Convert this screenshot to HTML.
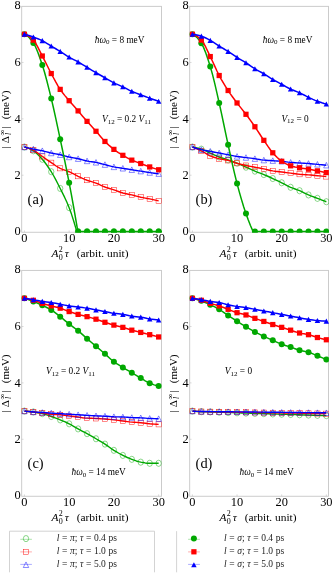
<!DOCTYPE html>
<html><head><meta charset="utf-8"><title>chart</title>
<style>html,body{margin:0;padding:0;background:#fff;}body{width:332px;height:576px;position:relative;overflow:hidden;font-family:"Liberation Serif",serif;}</style>
</head><body>
<svg width="332" height="576" viewBox="0 0 332 576" style="position:absolute;left:0;top:0;will-change:transform;font-family:'Liberation Serif',serif">
<defs>
<clipPath id="cpa"><rect x="21.3" y="5.95" width="140.6" height="226.7"/></clipPath>
<clipPath id="cpb"><rect x="189.3" y="5.95" width="139.6" height="226.7"/></clipPath>
<clipPath id="cpc"><rect x="21.3" y="270" width="140.6" height="226.65"/></clipPath>
<clipPath id="cpd"><rect x="189.3" y="270" width="139.6" height="226.65"/></clipPath>
</defs>
<rect x="21.7" y="6.35" width="139.8" height="225.9" fill="none" stroke="#c6c6c6" stroke-width="0.9"/>
<text x="20.8" y="235" font-size="12.4" text-anchor="end" fill="#000">0</text>
<line x1="21.7" x2="23.5" y1="175.22" y2="175.22" stroke="#c6c6c6" stroke-width="0.7"/>
<text x="20.8" y="179" font-size="12.4" text-anchor="end" fill="#000">2</text>
<line x1="21.7" x2="23.5" y1="118.84" y2="118.84" stroke="#c6c6c6" stroke-width="0.7"/>
<text x="20.8" y="123" font-size="12.4" text-anchor="end" fill="#000">4</text>
<line x1="21.7" x2="23.5" y1="62.46" y2="62.46" stroke="#c6c6c6" stroke-width="0.7"/>
<text x="20.8" y="66" font-size="12.4" text-anchor="end" fill="#000">6</text>
<text x="20.8" y="9" font-size="12.4" text-anchor="end" fill="#000">8</text>
<line x1="24.4" x2="24.4" y1="232.25" y2="230.45" stroke="#c6c6c6" stroke-width="0.7"/>
<text x="24.4" y="242" font-size="12.4" text-anchor="middle" fill="#000">0</text>
<line x1="69.15" x2="69.15" y1="232.25" y2="230.45" stroke="#c6c6c6" stroke-width="0.7"/>
<text x="69.15" y="242" font-size="12.4" text-anchor="middle" fill="#000">10</text>
<line x1="113.9" x2="113.9" y1="232.25" y2="230.45" stroke="#c6c6c6" stroke-width="0.7"/>
<text x="113.9" y="242" font-size="12.4" text-anchor="middle" fill="#000">20</text>
<line x1="158.65" x2="158.65" y1="232.25" y2="230.45" stroke="#c6c6c6" stroke-width="0.7"/>
<text x="158.65" y="242" font-size="12.4" text-anchor="middle" fill="#000">30</text>
<g clip-path="url(#cpa)">
<path d="M24.4 147.03L26.64 147.57L28.88 148.44L31.11 149.54L33.35 150.8L35.59 152.38L37.82 154.43L40.06 156.78L42.3 159.29L44.54 161.98L46.77 164.99L49.01 168.26L51.25 171.74L53.49 175.51L55.72 179.63L57.96 183.98L60.2 188.44L62.44 192.88L64.67 197.42L66.91 202.28L69.15 207.68L71.39 213.86L73.62 220.82L75.86 228.41L76.76 231.6L163.12 231.6" fill="none" stroke="#00a800" stroke-width="1.4" stroke-linejoin="round"/>
<ellipse cx="24.4" cy="147.03" rx="2.65" ry="3.1" fill="none" stroke="#00a800" stroke-width="0.46"/>
<ellipse cx="33.35" cy="150.8" rx="2.65" ry="3.1" fill="none" stroke="#00a800" stroke-width="0.46"/>
<ellipse cx="42.3" cy="159.29" rx="2.65" ry="3.1" fill="none" stroke="#00a800" stroke-width="0.46"/>
<ellipse cx="51.25" cy="171.74" rx="2.65" ry="3.1" fill="none" stroke="#00a800" stroke-width="0.46"/>
<ellipse cx="60.2" cy="188.44" rx="2.65" ry="3.1" fill="none" stroke="#00a800" stroke-width="0.46"/>
<ellipse cx="69.15" cy="207.68" rx="2.65" ry="3.1" fill="none" stroke="#00a800" stroke-width="0.46"/>
<ellipse cx="78.1" cy="231.6" rx="2.65" ry="3.1" fill="none" stroke="#00a800" stroke-width="0.46"/>
<ellipse cx="87.05" cy="231.6" rx="2.65" ry="3.1" fill="none" stroke="#00a800" stroke-width="0.46"/>
<ellipse cx="96" cy="231.6" rx="2.65" ry="3.1" fill="none" stroke="#00a800" stroke-width="0.46"/>
<ellipse cx="104.95" cy="231.6" rx="2.65" ry="3.1" fill="none" stroke="#00a800" stroke-width="0.46"/>
<ellipse cx="113.9" cy="231.6" rx="2.65" ry="3.1" fill="none" stroke="#00a800" stroke-width="0.46"/>
<ellipse cx="122.85" cy="231.6" rx="2.65" ry="3.1" fill="none" stroke="#00a800" stroke-width="0.46"/>
<ellipse cx="131.8" cy="231.6" rx="2.65" ry="3.1" fill="none" stroke="#00a800" stroke-width="0.46"/>
<ellipse cx="140.75" cy="231.6" rx="2.65" ry="3.1" fill="none" stroke="#00a800" stroke-width="0.46"/>
<ellipse cx="149.7" cy="231.6" rx="2.65" ry="3.1" fill="none" stroke="#00a800" stroke-width="0.46"/>
<ellipse cx="158.65" cy="231.6" rx="2.65" ry="3.1" fill="none" stroke="#00a800" stroke-width="0.46"/>
<path d="M24.4 147.03L26.64 147.57L28.88 148.31L31.11 149.21L33.35 150.23L35.59 151.51L37.82 153.09L40.06 154.81L42.3 156.46L44.54 158.03L46.77 159.61L49.01 161.17L51.25 162.68L53.49 164.2L55.72 165.72L57.96 167.14L60.2 168.34L62.44 169.29L64.67 170.09L66.91 170.86L69.15 171.74L71.39 172.79L73.62 173.96L75.86 175.15L78.1 176.27L80.34 177.32L82.57 178.36L84.81 179.34L87.05 180.23L89.29 180.98L91.53 181.64L93.76 182.31L96 183.06L98.24 183.99L100.47 185.04L102.71 186.09L104.95 187.02L107.19 187.79L109.42 188.48L111.66 189.15L113.9 189.85L116.14 190.64L118.38 191.47L120.61 192.28L122.85 192.96L125.09 193.51L127.32 193.99L129.56 194.45L131.8 194.94L134.04 195.5L136.27 196.1L138.51 196.68L140.75 197.21L142.99 197.66L145.22 198.07L147.46 198.47L149.7 198.91L151.94 199.37L154.17 199.86L156.41 200.36L158.65 200.89" fill="none" stroke="#ff0000" stroke-width="1.4" stroke-linejoin="round"/>
<rect x="21.8" y="144.48" width="5.2" height="5.1" fill="none" stroke="#ff0000" stroke-width="0.46"/>
<rect x="30.75" y="147.68" width="5.2" height="5.1" fill="none" stroke="#ff0000" stroke-width="0.46"/>
<rect x="39.7" y="153.91" width="5.2" height="5.1" fill="none" stroke="#ff0000" stroke-width="0.46"/>
<rect x="48.65" y="160.13" width="5.2" height="5.1" fill="none" stroke="#ff0000" stroke-width="0.46"/>
<rect x="57.6" y="165.79" width="5.2" height="5.1" fill="none" stroke="#ff0000" stroke-width="0.46"/>
<rect x="66.55" y="169.19" width="5.2" height="5.1" fill="none" stroke="#ff0000" stroke-width="0.46"/>
<rect x="75.5" y="173.72" width="5.2" height="5.1" fill="none" stroke="#ff0000" stroke-width="0.46"/>
<rect x="84.45" y="177.68" width="5.2" height="5.1" fill="none" stroke="#ff0000" stroke-width="0.46"/>
<rect x="93.4" y="180.51" width="5.2" height="5.1" fill="none" stroke="#ff0000" stroke-width="0.46"/>
<rect x="102.35" y="184.47" width="5.2" height="5.1" fill="none" stroke="#ff0000" stroke-width="0.46"/>
<rect x="111.3" y="187.3" width="5.2" height="5.1" fill="none" stroke="#ff0000" stroke-width="0.46"/>
<rect x="120.25" y="190.41" width="5.2" height="5.1" fill="none" stroke="#ff0000" stroke-width="0.46"/>
<rect x="129.2" y="192.39" width="5.2" height="5.1" fill="none" stroke="#ff0000" stroke-width="0.46"/>
<rect x="138.15" y="194.66" width="5.2" height="5.1" fill="none" stroke="#ff0000" stroke-width="0.46"/>
<rect x="147.1" y="196.36" width="5.2" height="5.1" fill="none" stroke="#ff0000" stroke-width="0.46"/>
<rect x="156.05" y="198.34" width="5.2" height="5.1" fill="none" stroke="#ff0000" stroke-width="0.46"/>
<path d="M24.4 147.03L26.64 147.58L28.88 148.11L31.11 148.62L33.35 149.1L35.59 149.53L37.82 149.94L40.06 150.35L42.3 150.8L44.54 151.33L46.77 151.93L49.01 152.52L51.25 153.06L53.49 153.51L55.72 153.91L57.96 154.31L60.2 154.76L62.44 155.29L64.67 155.89L66.91 156.49L69.15 157.02L71.39 157.47L73.62 157.87L75.86 158.27L78.1 158.72L80.34 159.27L82.57 159.88L84.81 160.48L87.05 160.98L89.29 161.37L91.53 161.69L93.76 162.01L96 162.4L98.24 162.89L100.47 163.47L102.71 164.07L104.95 164.66L107.19 165.25L109.42 165.86L111.66 166.43L113.9 166.93L116.14 167.33L118.38 167.68L120.61 168L122.85 168.34L125.09 168.7L127.32 169.05L129.56 169.4L131.8 169.76L134.04 170.11L136.27 170.46L138.51 170.82L140.75 171.17L142.99 171.53L145.22 171.9L147.46 172.26L149.7 172.59L151.94 172.89L154.17 173.19L156.41 173.46L158.65 173.72" fill="none" stroke="#0000ff" stroke-width="1.4" stroke-linejoin="round"/>
<path d="M24.4 144.18L27.1 149.73L21.7 149.73Z" fill="none" stroke="#0000ff" stroke-width="0.46"/>
<path d="M33.35 146.25L36.05 151.8L30.65 151.8Z" fill="none" stroke="#0000ff" stroke-width="0.46"/>
<path d="M42.3 147.95L45 153.5L39.6 153.5Z" fill="none" stroke="#0000ff" stroke-width="0.46"/>
<path d="M51.25 150.21L53.95 155.76L48.55 155.76Z" fill="none" stroke="#0000ff" stroke-width="0.46"/>
<path d="M60.2 151.91L62.9 157.46L57.5 157.46Z" fill="none" stroke="#0000ff" stroke-width="0.46"/>
<path d="M69.15 154.17L71.85 159.72L66.45 159.72Z" fill="none" stroke="#0000ff" stroke-width="0.46"/>
<path d="M78.1 155.87L80.8 161.42L75.4 161.42Z" fill="none" stroke="#0000ff" stroke-width="0.46"/>
<path d="M87.05 158.13L89.75 163.68L84.35 163.68Z" fill="none" stroke="#0000ff" stroke-width="0.46"/>
<path d="M96 159.55L98.7 165.1L93.3 165.1Z" fill="none" stroke="#0000ff" stroke-width="0.46"/>
<path d="M104.95 161.81L107.65 167.36L102.25 167.36Z" fill="none" stroke="#0000ff" stroke-width="0.46"/>
<path d="M113.9 164.08L116.6 169.63L111.2 169.63Z" fill="none" stroke="#0000ff" stroke-width="0.46"/>
<path d="M122.85 165.49L125.55 171.04L120.15 171.04Z" fill="none" stroke="#0000ff" stroke-width="0.46"/>
<path d="M131.8 166.91L134.5 172.46L129.1 172.46Z" fill="none" stroke="#0000ff" stroke-width="0.46"/>
<path d="M140.75 168.32L143.45 173.87L138.05 173.87Z" fill="none" stroke="#0000ff" stroke-width="0.46"/>
<path d="M149.7 169.74L152.4 175.29L147 175.29Z" fill="none" stroke="#0000ff" stroke-width="0.46"/>
<path d="M158.65 170.87L161.35 176.42L155.95 176.42Z" fill="none" stroke="#0000ff" stroke-width="0.46"/>
<path d="M24.4 34.27L26.64 35.33L28.88 37.31L31.11 39.95L33.35 42.97L35.59 46.93L37.82 52.25L40.06 58.45L42.3 65.05L44.54 72.28L46.77 80.48L49.01 89.31L51.25 98.44L53.49 108L55.72 118.14L57.96 128.62L60.2 139.19L62.44 149.74L64.67 160.42L66.91 171.38L69.15 182.78L71.39 194.66L73.62 207L75.86 219.77L77.88 231.6L163.12 231.6" fill="none" stroke="#00a800" stroke-width="1.5" stroke-linejoin="round"/>
<circle cx="24.4" cy="34.27" r="3.0" fill="#00a800"/>
<circle cx="33.35" cy="42.97" r="3.0" fill="#00a800"/>
<circle cx="42.3" cy="65.05" r="3.0" fill="#00a800"/>
<circle cx="51.25" cy="98.44" r="3.0" fill="#00a800"/>
<circle cx="60.2" cy="139.19" r="3.0" fill="#00a800"/>
<circle cx="69.15" cy="182.78" r="3.0" fill="#00a800"/>
<circle cx="78.1" cy="231.6" r="3.0" fill="#00a800"/>
<circle cx="87.05" cy="231.6" r="3.0" fill="#00a800"/>
<circle cx="96" cy="231.6" r="3.0" fill="#00a800"/>
<circle cx="104.95" cy="231.6" r="3.0" fill="#00a800"/>
<circle cx="113.9" cy="231.6" r="3.0" fill="#00a800"/>
<circle cx="122.85" cy="231.6" r="3.0" fill="#00a800"/>
<circle cx="131.8" cy="231.6" r="3.0" fill="#00a800"/>
<circle cx="140.75" cy="231.6" r="3.0" fill="#00a800"/>
<circle cx="149.7" cy="231.6" r="3.0" fill="#00a800"/>
<circle cx="158.65" cy="231.6" r="3.0" fill="#00a800"/>
<path d="M24.4 34.27L26.64 34.91L28.88 36.25L31.11 38.06L33.35 40.14L35.59 43.04L37.82 47.06L40.06 51.57L42.3 55.99L44.54 60.29L46.77 64.76L49.01 69.23L51.25 73.54L53.49 77.74L55.72 81.89L57.96 85.83L60.2 89.39L62.44 92.51L64.67 95.36L66.91 98.05L69.15 100.7L71.39 103.32L73.62 105.85L75.86 108.35L78.1 110.89L80.34 113.5L82.57 116.15L84.81 118.78L87.05 121.36L89.29 123.87L91.53 126.33L93.76 128.79L96 131.27L98.24 133.86L100.47 136.5L102.71 139.08L104.95 141.46L107.19 143.63L109.42 145.68L111.66 147.61L113.9 149.38L116.14 151.02L118.38 152.54L120.61 153.97L122.85 155.32L125.09 156.64L127.32 157.9L129.56 159.07L131.8 160.14L134.04 161.07L136.27 161.91L138.51 162.71L140.75 163.53L142.99 164.39L145.22 165.27L147.46 166.12L149.7 166.93L151.94 167.68L154.17 168.41L156.41 169.1L158.65 169.76" fill="none" stroke="#ff0000" stroke-width="1.5" stroke-linejoin="round"/>
<rect x="21.78" y="31.65" width="5.24" height="5.24" fill="#ff0000"/>
<rect x="30.73" y="37.52" width="5.24" height="5.24" fill="#ff0000"/>
<rect x="39.68" y="53.37" width="5.24" height="5.24" fill="#ff0000"/>
<rect x="48.63" y="70.92" width="5.24" height="5.24" fill="#ff0000"/>
<rect x="57.58" y="86.77" width="5.24" height="5.24" fill="#ff0000"/>
<rect x="66.53" y="98.08" width="5.24" height="5.24" fill="#ff0000"/>
<rect x="75.48" y="108.27" width="5.24" height="5.24" fill="#ff0000"/>
<rect x="84.43" y="118.74" width="5.24" height="5.24" fill="#ff0000"/>
<rect x="93.38" y="128.65" width="5.24" height="5.24" fill="#ff0000"/>
<rect x="102.33" y="138.84" width="5.24" height="5.24" fill="#ff0000"/>
<rect x="111.28" y="146.76" width="5.24" height="5.24" fill="#ff0000"/>
<rect x="120.23" y="152.7" width="5.24" height="5.24" fill="#ff0000"/>
<rect x="129.18" y="157.52" width="5.24" height="5.24" fill="#ff0000"/>
<rect x="138.13" y="160.91" width="5.24" height="5.24" fill="#ff0000"/>
<rect x="147.08" y="164.31" width="5.24" height="5.24" fill="#ff0000"/>
<rect x="156.03" y="167.14" width="5.24" height="5.24" fill="#ff0000"/>
<path d="M24.4 34.27L26.64 34.88L28.88 35.54L31.11 36.26L33.35 37.03L35.59 37.84L37.82 38.72L40.06 39.67L42.3 40.71L44.54 41.91L46.77 43.27L49.01 44.69L51.25 46.09L53.49 47.42L55.72 48.76L57.96 50.1L60.2 51.46L62.44 52.88L64.67 54.33L66.91 55.77L69.15 57.12L71.39 58.37L73.62 59.54L75.86 60.71L78.1 61.93L80.34 63.24L82.57 64.59L84.81 65.95L87.05 67.31L89.29 68.66L91.53 70.02L93.76 71.36L96 72.69L98.24 73.98L100.47 75.25L102.71 76.51L104.95 77.78L107.19 79.09L109.42 80.41L111.66 81.69L113.9 82.88L116.14 83.92L118.38 84.89L120.61 85.83L122.85 86.84L125.09 87.96L127.32 89.15L129.56 90.31L131.8 91.37L134.04 92.28L136.27 93.12L138.51 93.94L140.75 94.76L142.99 95.62L145.22 96.48L147.46 97.33L149.7 98.16L151.94 98.96L154.17 99.75L156.41 100.52L158.65 101.27" fill="none" stroke="#0000ff" stroke-width="1.5" stroke-linejoin="round"/>
<path d="M24.4 31.67L27.15 36.77L21.65 36.77Z" fill="#0000ff"/>
<path d="M33.35 34.43L36.1 39.53L30.6 39.53Z" fill="#0000ff"/>
<path d="M42.3 38.11L45.05 43.21L39.55 43.21Z" fill="#0000ff"/>
<path d="M51.25 43.49L54 48.59L48.5 48.59Z" fill="#0000ff"/>
<path d="M60.2 48.86L62.95 53.96L57.45 53.96Z" fill="#0000ff"/>
<path d="M69.15 54.52L71.9 59.62L66.4 59.62Z" fill="#0000ff"/>
<path d="M78.1 59.33L80.85 64.43L75.35 64.43Z" fill="#0000ff"/>
<path d="M87.05 64.71L89.8 69.81L84.3 69.81Z" fill="#0000ff"/>
<path d="M96 70.09L98.75 75.19L93.25 75.19Z" fill="#0000ff"/>
<path d="M104.95 75.18L107.7 80.28L102.2 80.28Z" fill="#0000ff"/>
<path d="M113.9 80.28L116.65 85.38L111.15 85.38Z" fill="#0000ff"/>
<path d="M122.85 84.24L125.6 89.34L120.1 89.34Z" fill="#0000ff"/>
<path d="M131.8 88.77L134.55 93.87L129.05 93.87Z" fill="#0000ff"/>
<path d="M140.75 92.16L143.5 97.26L138 97.26Z" fill="#0000ff"/>
<path d="M149.7 95.56L152.45 100.66L146.95 100.66Z" fill="#0000ff"/>
<path d="M158.65 98.67L161.4 103.77L155.9 103.77Z" fill="#0000ff"/>
</g>
<text x="51.6" y="256.8" font-size="11.4" fill="#000" xml:space="preserve"><tspan font-style="italic">A</tspan><tspan font-size="8" dy="3" dx="0.3">0</tspan><tspan font-size="8" dy="-7.5" dx="-4">2</tspan><tspan x="64.8" dy="4.5" font-style="italic">τ</tspan><tspan x="76.7">(arbit. unit)</tspan></text>
<text transform="translate(8.5 147.5) rotate(-90)" font-size="11" fill="#000" xml:space="preserve"><tspan x="-1.1">|</tspan><tspan x="4.2">Δ</tspan><tspan x="12.4" font-size="8" dy="2.4" font-style="italic">l</tspan><tspan x="12" font-size="8" dy="-6.3">∞</tspan><tspan x="19" dy="3.9">|</tspan><tspan x="28.3">(meV)</tspan></text>
<text x="27.6" y="203.95" font-size="14.4" fill="#000">(a)</text>
<rect x="189.7" y="6.35" width="138.8" height="225.9" fill="none" stroke="#c6c6c6" stroke-width="0.9"/>
<text x="188.8" y="235" font-size="12.4" text-anchor="end" fill="#000">0</text>
<line x1="189.7" x2="191.5" y1="175.22" y2="175.22" stroke="#c6c6c6" stroke-width="0.7"/>
<text x="188.8" y="179" font-size="12.4" text-anchor="end" fill="#000">2</text>
<line x1="189.7" x2="191.5" y1="118.84" y2="118.84" stroke="#c6c6c6" stroke-width="0.7"/>
<text x="188.8" y="123" font-size="12.4" text-anchor="end" fill="#000">4</text>
<line x1="189.7" x2="191.5" y1="62.46" y2="62.46" stroke="#c6c6c6" stroke-width="0.7"/>
<text x="188.8" y="66" font-size="12.4" text-anchor="end" fill="#000">6</text>
<text x="188.8" y="9" font-size="12.4" text-anchor="end" fill="#000">8</text>
<line x1="192.4" x2="192.4" y1="232.25" y2="230.45" stroke="#c6c6c6" stroke-width="0.7"/>
<text x="192.4" y="242" font-size="12.4" text-anchor="middle" fill="#000">0</text>
<line x1="237.05" x2="237.05" y1="232.25" y2="230.45" stroke="#c6c6c6" stroke-width="0.7"/>
<text x="237.05" y="242" font-size="12.4" text-anchor="middle" fill="#000">10</text>
<line x1="281.7" x2="281.7" y1="232.25" y2="230.45" stroke="#c6c6c6" stroke-width="0.7"/>
<text x="281.7" y="242" font-size="12.4" text-anchor="middle" fill="#000">20</text>
<line x1="326.35" x2="326.35" y1="232.25" y2="230.45" stroke="#c6c6c6" stroke-width="0.7"/>
<text x="326.35" y="242" font-size="12.4" text-anchor="middle" fill="#000">30</text>
<g clip-path="url(#cpb)">
<path d="M192.4 147.03L194.63 147.38L196.87 147.86L199.1 148.45L201.33 149.1L203.56 149.91L205.8 150.92L208.03 152.01L210.26 153.06L212.49 154.08L214.72 155.12L216.96 156.12L219.19 157.02L221.42 157.78L223.66 158.46L225.89 159.13L228.12 159.85L230.35 160.65L232.59 161.48L234.82 162.35L237.05 163.25L239.28 164.2L241.51 165.19L243.75 166.21L245.98 167.21L248.21 168.21L250.44 169.23L252.68 170.22L254.91 171.17L257.14 172.05L259.38 172.87L261.61 173.69L263.84 174.57L266.07 175.51L268.31 176.49L270.54 177.51L272.77 178.53L275 179.56L277.24 180.62L279.47 181.69L281.7 182.78L283.93 183.92L286.17 185.1L288.4 186.26L290.63 187.3L292.86 188.2L295.1 189.01L297.33 189.82L299.56 190.7L301.79 191.72L304.02 192.82L306.26 193.93L308.49 194.94L310.72 195.85L312.95 196.69L315.19 197.51L317.42 198.34L319.65 199.19L321.88 200.04L324.12 200.89L326.35 201.74" fill="none" stroke="#00a800" stroke-width="1.4" stroke-linejoin="round"/>
<ellipse cx="192.4" cy="147.03" rx="2.65" ry="3.1" fill="none" stroke="#00a800" stroke-width="0.46"/>
<ellipse cx="201.33" cy="149.1" rx="2.65" ry="3.1" fill="none" stroke="#00a800" stroke-width="0.46"/>
<ellipse cx="210.26" cy="153.06" rx="2.65" ry="3.1" fill="none" stroke="#00a800" stroke-width="0.46"/>
<ellipse cx="219.19" cy="157.02" rx="2.65" ry="3.1" fill="none" stroke="#00a800" stroke-width="0.46"/>
<ellipse cx="228.12" cy="159.85" rx="2.65" ry="3.1" fill="none" stroke="#00a800" stroke-width="0.46"/>
<ellipse cx="237.05" cy="163.25" rx="2.65" ry="3.1" fill="none" stroke="#00a800" stroke-width="0.46"/>
<ellipse cx="245.98" cy="167.21" rx="2.65" ry="3.1" fill="none" stroke="#00a800" stroke-width="0.46"/>
<ellipse cx="254.91" cy="171.17" rx="2.65" ry="3.1" fill="none" stroke="#00a800" stroke-width="0.46"/>
<ellipse cx="263.84" cy="174.57" rx="2.65" ry="3.1" fill="none" stroke="#00a800" stroke-width="0.46"/>
<ellipse cx="272.77" cy="178.53" rx="2.65" ry="3.1" fill="none" stroke="#00a800" stroke-width="0.46"/>
<ellipse cx="281.7" cy="182.78" rx="2.65" ry="3.1" fill="none" stroke="#00a800" stroke-width="0.46"/>
<ellipse cx="290.63" cy="187.3" rx="2.65" ry="3.1" fill="none" stroke="#00a800" stroke-width="0.46"/>
<ellipse cx="299.56" cy="190.7" rx="2.65" ry="3.1" fill="none" stroke="#00a800" stroke-width="0.46"/>
<ellipse cx="308.49" cy="194.94" rx="2.65" ry="3.1" fill="none" stroke="#00a800" stroke-width="0.46"/>
<ellipse cx="317.42" cy="198.34" rx="2.65" ry="3.1" fill="none" stroke="#00a800" stroke-width="0.46"/>
<ellipse cx="326.35" cy="201.74" rx="2.65" ry="3.1" fill="none" stroke="#00a800" stroke-width="0.46"/>
<path d="M192.4 147.03L194.63 147.85L196.87 148.76L199.1 149.74L201.33 150.8L203.56 152.03L205.8 153.43L208.03 154.79L210.26 155.89L212.49 156.74L214.72 157.49L216.96 158.15L219.19 158.72L221.42 159.18L223.66 159.57L225.89 159.95L228.12 160.42L230.35 161.04L232.59 161.78L234.82 162.55L237.05 163.25L239.28 163.86L241.51 164.45L243.75 165L245.98 165.51L248.21 165.97L250.44 166.39L252.68 166.8L254.91 167.21L257.14 167.63L259.38 168.04L261.61 168.47L263.84 168.91L266.07 169.41L268.31 169.95L270.54 170.46L272.77 170.89L275 171.22L277.24 171.49L279.47 171.75L281.7 172.02L283.93 172.3L286.17 172.59L288.4 172.87L290.63 173.15L292.86 173.45L295.1 173.77L297.33 174.06L299.56 174.29L301.79 174.45L304.02 174.58L306.26 174.7L308.49 174.85L310.72 175.04L312.95 175.25L315.19 175.48L317.42 175.7L319.65 175.91L321.88 176.12L324.12 176.34L326.35 176.55" fill="none" stroke="#ff0000" stroke-width="1.4" stroke-linejoin="round"/>
<rect x="189.8" y="144.48" width="5.2" height="5.1" fill="none" stroke="#ff0000" stroke-width="0.46"/>
<rect x="198.73" y="148.25" width="5.2" height="5.1" fill="none" stroke="#ff0000" stroke-width="0.46"/>
<rect x="207.66" y="153.34" width="5.2" height="5.1" fill="none" stroke="#ff0000" stroke-width="0.46"/>
<rect x="216.59" y="156.17" width="5.2" height="5.1" fill="none" stroke="#ff0000" stroke-width="0.46"/>
<rect x="225.52" y="157.87" width="5.2" height="5.1" fill="none" stroke="#ff0000" stroke-width="0.46"/>
<rect x="234.45" y="160.7" width="5.2" height="5.1" fill="none" stroke="#ff0000" stroke-width="0.46"/>
<rect x="243.38" y="162.96" width="5.2" height="5.1" fill="none" stroke="#ff0000" stroke-width="0.46"/>
<rect x="252.31" y="164.66" width="5.2" height="5.1" fill="none" stroke="#ff0000" stroke-width="0.46"/>
<rect x="261.24" y="166.36" width="5.2" height="5.1" fill="none" stroke="#ff0000" stroke-width="0.46"/>
<rect x="270.17" y="168.34" width="5.2" height="5.1" fill="none" stroke="#ff0000" stroke-width="0.46"/>
<rect x="279.1" y="169.47" width="5.2" height="5.1" fill="none" stroke="#ff0000" stroke-width="0.46"/>
<rect x="288.03" y="170.6" width="5.2" height="5.1" fill="none" stroke="#ff0000" stroke-width="0.46"/>
<rect x="296.96" y="171.74" width="5.2" height="5.1" fill="none" stroke="#ff0000" stroke-width="0.46"/>
<rect x="305.89" y="172.3" width="5.2" height="5.1" fill="none" stroke="#ff0000" stroke-width="0.46"/>
<rect x="314.82" y="173.15" width="5.2" height="5.1" fill="none" stroke="#ff0000" stroke-width="0.46"/>
<rect x="323.75" y="174" width="5.2" height="5.1" fill="none" stroke="#ff0000" stroke-width="0.46"/>
<path d="M192.4 147.03L194.63 147.78L196.87 148.48L199.1 149.11L201.33 149.66L203.56 150.14L205.8 150.56L208.03 150.95L210.26 151.36L212.49 151.79L214.72 152.21L216.96 152.64L219.19 153.06L221.42 153.48L223.66 153.91L225.89 154.33L228.12 154.76L230.35 155.2L232.59 155.65L234.82 156.08L237.05 156.46L239.28 156.77L241.51 157.05L243.75 157.32L245.98 157.59L248.21 157.87L250.44 158.14L252.68 158.42L254.91 158.72L257.14 159.08L259.38 159.48L261.61 159.86L263.84 160.14L266.07 160.31L268.31 160.45L270.54 160.57L272.77 160.7L275 160.83L277.24 160.96L279.47 161.1L281.7 161.27L283.93 161.51L286.17 161.83L288.4 162.15L290.63 162.4L292.86 162.57L295.1 162.71L297.33 162.83L299.56 162.97L301.79 163.1L304.02 163.23L306.26 163.37L308.49 163.53L310.72 163.72L312.95 163.93L315.19 164.16L317.42 164.38L319.65 164.59L321.88 164.8L324.12 165.02L326.35 165.23" fill="none" stroke="#0000ff" stroke-width="1.4" stroke-linejoin="round"/>
<path d="M192.4 144.18L195.1 149.73L189.7 149.73Z" fill="none" stroke="#0000ff" stroke-width="0.46"/>
<path d="M201.33 146.81L204.03 152.36L198.63 152.36Z" fill="none" stroke="#0000ff" stroke-width="0.46"/>
<path d="M210.26 148.51L212.96 154.06L207.56 154.06Z" fill="none" stroke="#0000ff" stroke-width="0.46"/>
<path d="M219.19 150.21L221.89 155.76L216.49 155.76Z" fill="none" stroke="#0000ff" stroke-width="0.46"/>
<path d="M228.12 151.91L230.82 157.46L225.42 157.46Z" fill="none" stroke="#0000ff" stroke-width="0.46"/>
<path d="M237.05 153.61L239.75 159.16L234.35 159.16Z" fill="none" stroke="#0000ff" stroke-width="0.46"/>
<path d="M245.98 154.74L248.68 160.29L243.28 160.29Z" fill="none" stroke="#0000ff" stroke-width="0.46"/>
<path d="M254.91 155.87L257.61 161.42L252.21 161.42Z" fill="none" stroke="#0000ff" stroke-width="0.46"/>
<path d="M263.84 157.29L266.54 162.84L261.14 162.84Z" fill="none" stroke="#0000ff" stroke-width="0.46"/>
<path d="M272.77 157.85L275.47 163.4L270.07 163.4Z" fill="none" stroke="#0000ff" stroke-width="0.46"/>
<path d="M281.7 158.42L284.4 163.97L279 163.97Z" fill="none" stroke="#0000ff" stroke-width="0.46"/>
<path d="M290.63 159.55L293.33 165.1L287.93 165.1Z" fill="none" stroke="#0000ff" stroke-width="0.46"/>
<path d="M299.56 160.12L302.26 165.66L296.86 165.66Z" fill="none" stroke="#0000ff" stroke-width="0.46"/>
<path d="M308.49 160.68L311.19 166.23L305.79 166.23Z" fill="none" stroke="#0000ff" stroke-width="0.46"/>
<path d="M317.42 161.53L320.12 167.08L314.72 167.08Z" fill="none" stroke="#0000ff" stroke-width="0.46"/>
<path d="M326.35 162.38L329.05 167.93L323.65 167.93Z" fill="none" stroke="#0000ff" stroke-width="0.46"/>
<path d="M192.4 34.27L194.63 35.33L196.87 37.38L199.1 40.12L201.33 43.26L203.56 47.37L205.8 52.93L208.03 59.45L210.26 66.46L212.49 74.33L214.72 83.39L216.96 93.11L219.19 102.97L221.42 113.11L223.66 123.75L225.89 134.47L228.12 144.85L230.35 154.99L232.59 165.04L234.82 174.7L237.05 183.62L239.28 191.87L241.51 199.66L243.75 206.93L245.98 213.62L248.21 219.78L250.44 225.47L252.68 230.63L253.12 231.6L330.81 231.6" fill="none" stroke="#00a800" stroke-width="1.5" stroke-linejoin="round"/>
<circle cx="192.4" cy="34.27" r="3.0" fill="#00a800"/>
<circle cx="201.33" cy="43.26" r="3.0" fill="#00a800"/>
<circle cx="210.26" cy="66.46" r="3.0" fill="#00a800"/>
<circle cx="219.19" cy="102.97" r="3.0" fill="#00a800"/>
<circle cx="228.12" cy="144.85" r="3.0" fill="#00a800"/>
<circle cx="237.05" cy="183.62" r="3.0" fill="#00a800"/>
<circle cx="245.98" cy="213.62" r="3.0" fill="#00a800"/>
<circle cx="254.91" cy="231.6" r="3.0" fill="#00a800"/>
<circle cx="263.84" cy="231.6" r="3.0" fill="#00a800"/>
<circle cx="272.77" cy="231.6" r="3.0" fill="#00a800"/>
<circle cx="281.7" cy="231.6" r="3.0" fill="#00a800"/>
<circle cx="290.63" cy="231.6" r="3.0" fill="#00a800"/>
<circle cx="299.56" cy="231.6" r="3.0" fill="#00a800"/>
<circle cx="308.49" cy="231.6" r="3.0" fill="#00a800"/>
<circle cx="317.42" cy="231.6" r="3.0" fill="#00a800"/>
<circle cx="326.35" cy="231.6" r="3.0" fill="#00a800"/>
<path d="M192.4 34.27L194.63 34.87L196.87 36.2L199.1 38.04L201.33 40.14L203.56 43.1L205.8 47.23L208.03 51.92L210.26 56.56L212.49 61.21L214.72 66.14L216.96 71.02L219.19 75.52L221.42 79.58L223.66 83.41L225.89 87.04L228.12 90.52L230.35 93.82L232.59 96.96L234.82 99.99L237.05 102.97L239.28 105.85L241.51 108.63L243.75 111.41L245.98 114.29L248.21 117.29L250.44 120.37L252.68 123.52L254.91 126.74L257.14 130.08L259.38 133.53L261.61 136.98L263.84 140.32L266.07 143.62L268.31 146.91L270.54 150.02L272.77 152.78L275 155.25L277.24 157.55L279.47 159.58L281.7 161.27L283.93 162.68L286.17 163.92L288.4 164.98L290.63 165.8L292.86 166.41L295.1 166.92L297.33 167.36L299.56 167.78L301.79 168.16L304.02 168.5L306.26 168.83L308.49 169.19L310.72 169.59L312.95 170.02L315.19 170.46L317.42 170.89L319.65 171.31L321.88 171.74L324.12 172.16L326.35 172.59" fill="none" stroke="#ff0000" stroke-width="1.5" stroke-linejoin="round"/>
<rect x="189.78" y="31.65" width="5.24" height="5.24" fill="#ff0000"/>
<rect x="198.71" y="37.52" width="5.24" height="5.24" fill="#ff0000"/>
<rect x="207.64" y="53.94" width="5.24" height="5.24" fill="#ff0000"/>
<rect x="216.57" y="72.9" width="5.24" height="5.24" fill="#ff0000"/>
<rect x="225.5" y="87.9" width="5.24" height="5.24" fill="#ff0000"/>
<rect x="234.43" y="100.35" width="5.24" height="5.24" fill="#ff0000"/>
<rect x="243.36" y="111.67" width="5.24" height="5.24" fill="#ff0000"/>
<rect x="252.29" y="124.12" width="5.24" height="5.24" fill="#ff0000"/>
<rect x="261.22" y="137.7" width="5.24" height="5.24" fill="#ff0000"/>
<rect x="270.15" y="150.16" width="5.24" height="5.24" fill="#ff0000"/>
<rect x="279.08" y="158.65" width="5.24" height="5.24" fill="#ff0000"/>
<rect x="288.01" y="163.18" width="5.24" height="5.24" fill="#ff0000"/>
<rect x="296.94" y="165.16" width="5.24" height="5.24" fill="#ff0000"/>
<rect x="305.87" y="166.57" width="5.24" height="5.24" fill="#ff0000"/>
<rect x="314.8" y="168.27" width="5.24" height="5.24" fill="#ff0000"/>
<rect x="323.73" y="169.97" width="5.24" height="5.24" fill="#ff0000"/>
<path d="M192.4 34.27L194.63 34.55L196.87 34.99L199.1 35.55L201.33 36.18L203.56 36.99L205.8 38.03L208.03 39.2L210.26 40.43L212.49 41.73L214.72 43.17L216.96 44.65L219.19 46.09L221.42 47.44L223.66 48.76L225.89 50.09L228.12 51.46L230.35 52.92L232.59 54.43L234.82 55.95L237.05 57.41L239.28 58.78L241.51 60.09L243.75 61.41L245.98 62.78L248.21 64.25L250.44 65.77L252.68 67.29L254.91 68.73L257.14 70.04L259.38 71.29L261.61 72.53L263.84 73.82L266.07 75.21L268.31 76.67L270.54 78.12L272.77 79.48L275 80.74L277.24 81.93L279.47 83.11L281.7 84.29L283.93 85.52L286.17 86.78L288.4 87.99L290.63 89.1L292.86 90.07L295.1 90.96L297.33 91.83L299.56 92.78L301.79 93.86L304.02 95.02L306.26 96.2L308.49 97.31L310.72 98.37L312.95 99.41L315.19 100.39L317.42 101.27L319.65 102.07L321.88 102.82L324.12 103.5L326.35 104.1" fill="none" stroke="#0000ff" stroke-width="1.5" stroke-linejoin="round"/>
<path d="M192.4 31.67L195.15 36.77L189.65 36.77Z" fill="#0000ff"/>
<path d="M201.33 33.58L204.08 38.68L198.58 38.68Z" fill="#0000ff"/>
<path d="M210.26 37.83L213.01 42.93L207.51 42.93Z" fill="#0000ff"/>
<path d="M219.19 43.49L221.94 48.59L216.44 48.59Z" fill="#0000ff"/>
<path d="M228.12 48.86L230.87 53.96L225.37 53.96Z" fill="#0000ff"/>
<path d="M237.05 54.81L239.8 59.91L234.3 59.91Z" fill="#0000ff"/>
<path d="M245.98 60.18L248.73 65.28L243.23 65.28Z" fill="#0000ff"/>
<path d="M254.91 66.13L257.66 71.23L252.16 71.23Z" fill="#0000ff"/>
<path d="M263.84 71.22L266.59 76.32L261.09 76.32Z" fill="#0000ff"/>
<path d="M272.77 76.88L275.52 81.98L270.02 81.98Z" fill="#0000ff"/>
<path d="M281.7 81.69L284.45 86.79L278.95 86.79Z" fill="#0000ff"/>
<path d="M290.63 86.5L293.38 91.6L287.88 91.6Z" fill="#0000ff"/>
<path d="M299.56 90.18L302.31 95.28L296.81 95.28Z" fill="#0000ff"/>
<path d="M308.49 94.71L311.24 99.81L305.74 99.81Z" fill="#0000ff"/>
<path d="M317.42 98.67L320.17 103.77L314.67 103.77Z" fill="#0000ff"/>
<path d="M326.35 101.5L329.1 106.6L323.6 106.6Z" fill="#0000ff"/>
</g>
<text x="219.6" y="256.8" font-size="11.4" fill="#000" xml:space="preserve"><tspan font-style="italic">A</tspan><tspan font-size="8" dy="3" dx="0.3">0</tspan><tspan font-size="8" dy="-7.5" dx="-4">2</tspan><tspan x="232.8" dy="4.5" font-style="italic">τ</tspan><tspan x="244.7">(arbit. unit)</tspan></text>
<text transform="translate(176.5 147.5) rotate(-90)" font-size="11" fill="#000" xml:space="preserve"><tspan x="-1.1">|</tspan><tspan x="4.2">Δ</tspan><tspan x="12.4" font-size="8" dy="2.4" font-style="italic">l</tspan><tspan x="12" font-size="8" dy="-6.3">∞</tspan><tspan x="19" dy="3.9">|</tspan><tspan x="28.3">(meV)</tspan></text>
<text x="195.6" y="203.95" font-size="14.4" fill="#000">(b)</text>
<rect x="21.7" y="270.4" width="139.8" height="225.85" fill="none" stroke="#c6c6c6" stroke-width="0.9"/>
<text x="20.8" y="499" font-size="12.4" text-anchor="end" fill="#000">0</text>
<line x1="21.7" x2="23.5" y1="439.27" y2="439.27" stroke="#c6c6c6" stroke-width="0.7"/>
<text x="20.8" y="443" font-size="12.4" text-anchor="end" fill="#000">2</text>
<line x1="21.7" x2="23.5" y1="382.89" y2="382.89" stroke="#c6c6c6" stroke-width="0.7"/>
<text x="20.8" y="387" font-size="12.4" text-anchor="end" fill="#000">4</text>
<line x1="21.7" x2="23.5" y1="326.51" y2="326.51" stroke="#c6c6c6" stroke-width="0.7"/>
<text x="20.8" y="330" font-size="12.4" text-anchor="end" fill="#000">6</text>
<text x="20.8" y="273" font-size="12.4" text-anchor="end" fill="#000">8</text>
<line x1="24.4" x2="24.4" y1="496.25" y2="494.45" stroke="#c6c6c6" stroke-width="0.7"/>
<text x="24.4" y="506" font-size="12.4" text-anchor="middle" fill="#000">0</text>
<line x1="69.15" x2="69.15" y1="496.25" y2="494.45" stroke="#c6c6c6" stroke-width="0.7"/>
<text x="69.15" y="506" font-size="12.4" text-anchor="middle" fill="#000">10</text>
<line x1="113.9" x2="113.9" y1="496.25" y2="494.45" stroke="#c6c6c6" stroke-width="0.7"/>
<text x="113.9" y="506" font-size="12.4" text-anchor="middle" fill="#000">20</text>
<line x1="158.65" x2="158.65" y1="496.25" y2="494.45" stroke="#c6c6c6" stroke-width="0.7"/>
<text x="158.65" y="506" font-size="12.4" text-anchor="middle" fill="#000">30</text>
<g clip-path="url(#cpc)">
<path d="M24.4 411.08L26.64 411.23L28.88 411.44L31.11 411.69L33.35 411.96L35.59 412.29L37.82 412.69L40.06 413.15L42.3 413.66L44.54 414.25L46.77 414.95L49.01 415.7L51.25 416.48L53.49 417.27L55.72 418.1L57.96 418.96L60.2 419.86L62.44 420.78L64.67 421.73L66.91 422.74L69.15 423.81L71.39 424.99L73.62 426.28L75.86 427.61L78.1 428.88L80.34 430.1L82.57 431.28L84.81 432.47L87.05 433.68L89.29 434.92L91.53 436.18L93.76 437.46L96 438.75L98.24 440.05L100.47 441.37L102.71 442.71L104.95 444.11L107.19 445.63L109.42 447.23L111.66 448.83L113.9 450.32L116.14 451.69L118.38 453L120.61 454.24L122.85 455.39L125.09 456.48L127.32 457.51L129.56 458.47L131.8 459.34L134.04 460.17L136.27 460.96L138.51 461.65L140.75 462.16L142.99 462.56L145.22 462.93L147.46 463.19L149.7 463.29L151.94 463.29L154.17 463.29L156.41 463.29L158.65 463.29" fill="none" stroke="#00a800" stroke-width="1.4" stroke-linejoin="round"/>
<ellipse cx="24.4" cy="411.08" rx="2.65" ry="3.1" fill="none" stroke="#00a800" stroke-width="0.46"/>
<ellipse cx="33.35" cy="411.96" rx="2.65" ry="3.1" fill="none" stroke="#00a800" stroke-width="0.46"/>
<ellipse cx="42.3" cy="413.66" rx="2.65" ry="3.1" fill="none" stroke="#00a800" stroke-width="0.46"/>
<ellipse cx="51.25" cy="416.48" rx="2.65" ry="3.1" fill="none" stroke="#00a800" stroke-width="0.46"/>
<ellipse cx="60.2" cy="419.86" rx="2.65" ry="3.1" fill="none" stroke="#00a800" stroke-width="0.46"/>
<ellipse cx="69.15" cy="423.81" rx="2.65" ry="3.1" fill="none" stroke="#00a800" stroke-width="0.46"/>
<ellipse cx="78.1" cy="428.88" rx="2.65" ry="3.1" fill="none" stroke="#00a800" stroke-width="0.46"/>
<ellipse cx="87.05" cy="433.68" rx="2.65" ry="3.1" fill="none" stroke="#00a800" stroke-width="0.46"/>
<ellipse cx="96" cy="438.75" rx="2.65" ry="3.1" fill="none" stroke="#00a800" stroke-width="0.46"/>
<ellipse cx="104.95" cy="444.11" rx="2.65" ry="3.1" fill="none" stroke="#00a800" stroke-width="0.46"/>
<ellipse cx="113.9" cy="450.32" rx="2.65" ry="3.1" fill="none" stroke="#00a800" stroke-width="0.46"/>
<ellipse cx="122.85" cy="455.39" rx="2.65" ry="3.1" fill="none" stroke="#00a800" stroke-width="0.46"/>
<ellipse cx="131.8" cy="459.34" rx="2.65" ry="3.1" fill="none" stroke="#00a800" stroke-width="0.46"/>
<ellipse cx="140.75" cy="462.16" rx="2.65" ry="3.1" fill="none" stroke="#00a800" stroke-width="0.46"/>
<ellipse cx="149.7" cy="463.29" rx="2.65" ry="3.1" fill="none" stroke="#00a800" stroke-width="0.46"/>
<ellipse cx="158.65" cy="463.29" rx="2.65" ry="3.1" fill="none" stroke="#00a800" stroke-width="0.46"/>
<path d="M24.4 411.08L26.64 411.28L28.88 411.49L31.11 411.72L33.35 411.96L35.59 412.23L37.82 412.51L40.06 412.8L42.3 413.09L44.54 413.39L46.77 413.7L49.01 413.99L51.25 414.22L53.49 414.38L55.72 414.5L57.96 414.63L60.2 414.78L62.44 415.01L64.67 415.3L66.91 415.61L69.15 415.91L71.39 416.19L73.62 416.48L75.86 416.76L78.1 417.04L80.34 417.35L82.57 417.69L84.81 417.98L87.05 418.17L89.29 418.26L91.53 418.32L93.76 418.37L96 418.45L98.24 418.56L100.47 418.69L102.71 418.85L104.95 419.01L107.19 419.2L109.42 419.4L111.66 419.62L113.9 419.86L116.14 420.12L118.38 420.4L120.61 420.7L122.85 420.99L125.09 421.29L127.32 421.6L129.56 421.89L131.8 422.12L134.04 422.27L136.27 422.4L138.51 422.52L140.75 422.68L142.99 422.93L145.22 423.24L147.46 423.56L149.7 423.81L151.94 423.99L154.17 424.15L156.41 424.28L158.65 424.37" fill="none" stroke="#ff0000" stroke-width="1.4" stroke-linejoin="round"/>
<rect x="21.8" y="408.53" width="5.2" height="5.1" fill="none" stroke="#ff0000" stroke-width="0.46"/>
<rect x="30.75" y="409.41" width="5.2" height="5.1" fill="none" stroke="#ff0000" stroke-width="0.46"/>
<rect x="39.7" y="410.54" width="5.2" height="5.1" fill="none" stroke="#ff0000" stroke-width="0.46"/>
<rect x="48.65" y="411.67" width="5.2" height="5.1" fill="none" stroke="#ff0000" stroke-width="0.46"/>
<rect x="57.6" y="412.23" width="5.2" height="5.1" fill="none" stroke="#ff0000" stroke-width="0.46"/>
<rect x="66.55" y="413.36" width="5.2" height="5.1" fill="none" stroke="#ff0000" stroke-width="0.46"/>
<rect x="75.5" y="414.49" width="5.2" height="5.1" fill="none" stroke="#ff0000" stroke-width="0.46"/>
<rect x="84.45" y="415.62" width="5.2" height="5.1" fill="none" stroke="#ff0000" stroke-width="0.46"/>
<rect x="93.4" y="415.9" width="5.2" height="5.1" fill="none" stroke="#ff0000" stroke-width="0.46"/>
<rect x="102.35" y="416.46" width="5.2" height="5.1" fill="none" stroke="#ff0000" stroke-width="0.46"/>
<rect x="111.3" y="417.31" width="5.2" height="5.1" fill="none" stroke="#ff0000" stroke-width="0.46"/>
<rect x="120.25" y="418.44" width="5.2" height="5.1" fill="none" stroke="#ff0000" stroke-width="0.46"/>
<rect x="129.2" y="419.57" width="5.2" height="5.1" fill="none" stroke="#ff0000" stroke-width="0.46"/>
<rect x="138.15" y="420.13" width="5.2" height="5.1" fill="none" stroke="#ff0000" stroke-width="0.46"/>
<rect x="147.1" y="421.26" width="5.2" height="5.1" fill="none" stroke="#ff0000" stroke-width="0.46"/>
<rect x="156.05" y="421.82" width="5.2" height="5.1" fill="none" stroke="#ff0000" stroke-width="0.46"/>
<path d="M24.4 411.08L26.64 411.33L28.88 411.57L31.11 411.78L33.35 411.96L35.59 412.12L37.82 412.26L40.06 412.39L42.3 412.53L44.54 412.67L46.77 412.81L49.01 412.95L51.25 413.09L53.49 413.23L55.72 413.37L57.96 413.51L60.2 413.66L62.44 413.8L64.67 413.94L66.91 414.08L69.15 414.22L71.39 414.36L73.62 414.5L75.86 414.64L78.1 414.78L80.34 414.93L82.57 415.07L84.81 415.21L87.05 415.35L89.29 415.5L91.53 415.65L93.76 415.8L96 415.91L98.24 415.99L100.47 416.05L102.71 416.11L104.95 416.19L107.19 416.32L109.42 416.48L111.66 416.63L113.9 416.76L116.14 416.84L118.38 416.9L120.61 416.96L122.85 417.04L125.09 417.16L127.32 417.32L129.56 417.48L131.8 417.6L134.04 417.68L136.27 417.75L138.51 417.81L140.75 417.89L142.99 418.01L145.22 418.17L147.46 418.33L149.7 418.45L151.94 418.54L154.17 418.62L156.41 418.69L158.65 418.73" fill="none" stroke="#0000ff" stroke-width="1.4" stroke-linejoin="round"/>
<path d="M24.4 408.23L27.1 413.78L21.7 413.78Z" fill="none" stroke="#0000ff" stroke-width="0.46"/>
<path d="M33.35 409.11L36.05 414.66L30.65 414.66Z" fill="none" stroke="#0000ff" stroke-width="0.46"/>
<path d="M42.3 409.68L45 415.23L39.6 415.23Z" fill="none" stroke="#0000ff" stroke-width="0.46"/>
<path d="M51.25 410.24L53.95 415.79L48.55 415.79Z" fill="none" stroke="#0000ff" stroke-width="0.46"/>
<path d="M60.2 410.81L62.9 416.36L57.5 416.36Z" fill="none" stroke="#0000ff" stroke-width="0.46"/>
<path d="M69.15 411.37L71.85 416.92L66.45 416.92Z" fill="none" stroke="#0000ff" stroke-width="0.46"/>
<path d="M78.1 411.93L80.8 417.48L75.4 417.48Z" fill="none" stroke="#0000ff" stroke-width="0.46"/>
<path d="M87.05 412.5L89.75 418.05L84.35 418.05Z" fill="none" stroke="#0000ff" stroke-width="0.46"/>
<path d="M96 413.06L98.7 418.61L93.3 418.61Z" fill="none" stroke="#0000ff" stroke-width="0.46"/>
<path d="M104.95 413.34L107.65 418.89L102.25 418.89Z" fill="none" stroke="#0000ff" stroke-width="0.46"/>
<path d="M113.9 413.91L116.6 419.46L111.2 419.46Z" fill="none" stroke="#0000ff" stroke-width="0.46"/>
<path d="M122.85 414.19L125.55 419.74L120.15 419.74Z" fill="none" stroke="#0000ff" stroke-width="0.46"/>
<path d="M131.8 414.75L134.5 420.3L129.1 420.3Z" fill="none" stroke="#0000ff" stroke-width="0.46"/>
<path d="M140.75 415.04L143.45 420.59L138.05 420.59Z" fill="none" stroke="#0000ff" stroke-width="0.46"/>
<path d="M149.7 415.6L152.4 421.15L147 421.15Z" fill="none" stroke="#0000ff" stroke-width="0.46"/>
<path d="M158.65 415.88L161.35 421.43L155.95 421.43Z" fill="none" stroke="#0000ff" stroke-width="0.46"/>
<path d="M24.4 298.32L26.64 299.02L28.88 299.77L31.11 300.57L33.35 301.42L35.59 302.33L37.82 303.3L40.06 304.32L42.3 305.37L44.54 306.41L46.77 307.47L49.01 308.61L51.25 309.88L53.49 311.37L55.72 313.06L57.96 314.85L60.2 316.65L62.44 318.45L64.67 320.31L66.91 322.17L69.15 323.98L71.39 325.69L73.62 327.33L75.86 329L78.1 330.75L80.34 332.64L82.57 334.64L84.81 336.66L87.05 338.64L89.29 340.57L91.53 342.47L93.76 344.36L96 346.26L98.24 348.16L100.47 350.05L102.71 351.95L104.95 353.87L107.19 355.89L109.42 357.97L111.66 359.97L113.9 361.77L116.14 363.32L118.38 364.72L120.61 366.06L122.85 367.41L125.09 368.77L127.32 370.1L129.56 371.43L131.8 372.77L134.04 374.11L136.27 375.46L138.51 376.8L140.75 378.12L142.99 379.48L145.22 380.86L147.46 382.14L149.7 383.2L151.94 384.07L154.17 384.85L156.41 385.51L158.65 386.02" fill="none" stroke="#00a800" stroke-width="1.5" stroke-linejoin="round"/>
<circle cx="24.4" cy="298.32" r="3.0" fill="#00a800"/>
<circle cx="33.35" cy="301.42" r="3.0" fill="#00a800"/>
<circle cx="42.3" cy="305.37" r="3.0" fill="#00a800"/>
<circle cx="51.25" cy="309.88" r="3.0" fill="#00a800"/>
<circle cx="60.2" cy="316.65" r="3.0" fill="#00a800"/>
<circle cx="69.15" cy="323.98" r="3.0" fill="#00a800"/>
<circle cx="78.1" cy="330.75" r="3.0" fill="#00a800"/>
<circle cx="87.05" cy="338.64" r="3.0" fill="#00a800"/>
<circle cx="96" cy="346.26" r="3.0" fill="#00a800"/>
<circle cx="104.95" cy="353.87" r="3.0" fill="#00a800"/>
<circle cx="113.9" cy="361.77" r="3.0" fill="#00a800"/>
<circle cx="122.85" cy="367.41" r="3.0" fill="#00a800"/>
<circle cx="131.8" cy="372.77" r="3.0" fill="#00a800"/>
<circle cx="140.75" cy="378.12" r="3.0" fill="#00a800"/>
<circle cx="149.7" cy="383.2" r="3.0" fill="#00a800"/>
<circle cx="158.65" cy="386.02" r="3.0" fill="#00a800"/>
<path d="M24.4 298.32L26.64 298.71L28.88 299.18L31.11 299.71L33.35 300.29L35.59 300.98L37.82 301.8L40.06 302.63L42.3 303.39L44.54 304.07L46.77 304.71L49.01 305.33L51.25 305.93L53.49 306.49L55.72 307.02L57.96 307.57L60.2 308.19L62.44 308.95L64.67 309.83L66.91 310.74L69.15 311.57L71.39 312.33L73.62 313.05L75.86 313.74L78.1 314.39L80.34 314.99L82.57 315.53L84.81 316.08L87.05 316.65L89.29 317.25L91.53 317.87L93.76 318.51L96 319.19L98.24 319.92L100.47 320.72L102.71 321.52L104.95 322.29L107.19 323.03L109.42 323.75L111.66 324.45L113.9 325.11L116.14 325.7L118.38 326.24L120.61 326.78L122.85 327.36L125.09 328.04L127.32 328.77L129.56 329.51L131.8 330.18L134.04 330.78L136.27 331.34L138.51 331.89L140.75 332.44L142.99 333L145.22 333.57L147.46 334.13L149.7 334.7L151.94 335.26L154.17 335.82L156.41 336.39L158.65 336.95" fill="none" stroke="#ff0000" stroke-width="1.5" stroke-linejoin="round"/>
<rect x="21.78" y="295.7" width="5.24" height="5.24" fill="#ff0000"/>
<rect x="30.73" y="297.67" width="5.24" height="5.24" fill="#ff0000"/>
<rect x="39.68" y="300.77" width="5.24" height="5.24" fill="#ff0000"/>
<rect x="48.63" y="303.31" width="5.24" height="5.24" fill="#ff0000"/>
<rect x="57.58" y="305.57" width="5.24" height="5.24" fill="#ff0000"/>
<rect x="66.53" y="308.95" width="5.24" height="5.24" fill="#ff0000"/>
<rect x="75.48" y="311.77" width="5.24" height="5.24" fill="#ff0000"/>
<rect x="84.43" y="314.03" width="5.24" height="5.24" fill="#ff0000"/>
<rect x="93.38" y="316.57" width="5.24" height="5.24" fill="#ff0000"/>
<rect x="102.33" y="319.67" width="5.24" height="5.24" fill="#ff0000"/>
<rect x="111.28" y="322.49" width="5.24" height="5.24" fill="#ff0000"/>
<rect x="120.23" y="324.74" width="5.24" height="5.24" fill="#ff0000"/>
<rect x="129.18" y="327.56" width="5.24" height="5.24" fill="#ff0000"/>
<rect x="138.13" y="329.82" width="5.24" height="5.24" fill="#ff0000"/>
<rect x="147.08" y="332.08" width="5.24" height="5.24" fill="#ff0000"/>
<rect x="156.03" y="334.33" width="5.24" height="5.24" fill="#ff0000"/>
<path d="M24.4 298.32L26.64 298.65L28.88 298.99L31.11 299.35L33.35 299.73L35.59 300.15L37.82 300.6L40.06 301.04L42.3 301.42L44.54 301.72L46.77 301.98L49.01 302.24L51.25 302.55L53.49 302.92L55.72 303.35L57.96 303.8L60.2 304.24L62.44 304.68L64.67 305.13L66.91 305.56L69.15 305.93L71.39 306.25L73.62 306.52L75.86 306.79L78.1 307.06L80.34 307.33L82.57 307.6L84.81 307.87L87.05 308.19L89.29 308.56L91.53 308.99L93.76 309.44L96 309.88L98.24 310.3L100.47 310.73L102.71 311.15L104.95 311.57L107.19 312.01L109.42 312.46L111.66 312.89L113.9 313.26L116.14 313.57L118.38 313.83L120.61 314.09L122.85 314.39L125.09 314.78L127.32 315.24L129.56 315.69L131.8 316.08L134.04 316.39L136.27 316.65L138.51 316.91L140.75 317.21L142.99 317.6L145.22 318.06L147.46 318.51L149.7 318.9L151.94 319.23L154.17 319.53L156.41 319.8L158.65 320.03" fill="none" stroke="#0000ff" stroke-width="1.5" stroke-linejoin="round"/>
<path d="M24.4 295.72L27.15 300.82L21.65 300.82Z" fill="#0000ff"/>
<path d="M33.35 297.13L36.1 302.23L30.6 302.23Z" fill="#0000ff"/>
<path d="M42.3 298.82L45.05 303.92L39.55 303.92Z" fill="#0000ff"/>
<path d="M51.25 299.95L54 305.05L48.5 305.05Z" fill="#0000ff"/>
<path d="M60.2 301.64L62.95 306.74L57.45 306.74Z" fill="#0000ff"/>
<path d="M69.15 303.33L71.9 308.43L66.4 308.43Z" fill="#0000ff"/>
<path d="M78.1 304.46L80.85 309.56L75.35 309.56Z" fill="#0000ff"/>
<path d="M87.05 305.59L89.8 310.69L84.3 310.69Z" fill="#0000ff"/>
<path d="M96 307.28L98.75 312.38L93.25 312.38Z" fill="#0000ff"/>
<path d="M104.95 308.97L107.7 314.07L102.2 314.07Z" fill="#0000ff"/>
<path d="M113.9 310.66L116.65 315.76L111.15 315.76Z" fill="#0000ff"/>
<path d="M122.85 311.79L125.6 316.89L120.1 316.89Z" fill="#0000ff"/>
<path d="M131.8 313.48L134.55 318.58L129.05 318.58Z" fill="#0000ff"/>
<path d="M140.75 314.61L143.5 319.71L138 319.71Z" fill="#0000ff"/>
<path d="M149.7 316.3L152.45 321.4L146.95 321.4Z" fill="#0000ff"/>
<path d="M158.65 317.43L161.4 322.53L155.9 322.53Z" fill="#0000ff"/>
</g>
<text x="51.6" y="520.8" font-size="11.4" fill="#000" xml:space="preserve"><tspan font-style="italic">A</tspan><tspan font-size="8" dy="3" dx="0.3">0</tspan><tspan font-size="8" dy="-7.5" dx="-4">2</tspan><tspan x="64.8" dy="4.5" font-style="italic">τ</tspan><tspan x="76.7">(arbit. unit)</tspan></text>
<text transform="translate(8.5 411.5) rotate(-90)" font-size="11" fill="#000" xml:space="preserve"><tspan x="-1.1">|</tspan><tspan x="4.2">Δ</tspan><tspan x="12.4" font-size="8" dy="2.4" font-style="italic">l</tspan><tspan x="12" font-size="8" dy="-6.3">∞</tspan><tspan x="19" dy="3.9">|</tspan><tspan x="28.3">(meV)</tspan></text>
<text x="27.6" y="468" font-size="14.4" fill="#000">(c)</text>
<rect x="189.7" y="270.4" width="138.8" height="225.85" fill="none" stroke="#c6c6c6" stroke-width="0.9"/>
<text x="188.8" y="499" font-size="12.4" text-anchor="end" fill="#000">0</text>
<line x1="189.7" x2="191.5" y1="439.27" y2="439.27" stroke="#c6c6c6" stroke-width="0.7"/>
<text x="188.8" y="443" font-size="12.4" text-anchor="end" fill="#000">2</text>
<line x1="189.7" x2="191.5" y1="382.89" y2="382.89" stroke="#c6c6c6" stroke-width="0.7"/>
<text x="188.8" y="387" font-size="12.4" text-anchor="end" fill="#000">4</text>
<line x1="189.7" x2="191.5" y1="326.51" y2="326.51" stroke="#c6c6c6" stroke-width="0.7"/>
<text x="188.8" y="330" font-size="12.4" text-anchor="end" fill="#000">6</text>
<text x="188.8" y="273" font-size="12.4" text-anchor="end" fill="#000">8</text>
<line x1="192.4" x2="192.4" y1="496.25" y2="494.45" stroke="#c6c6c6" stroke-width="0.7"/>
<text x="192.4" y="506" font-size="12.4" text-anchor="middle" fill="#000">0</text>
<line x1="237.05" x2="237.05" y1="496.25" y2="494.45" stroke="#c6c6c6" stroke-width="0.7"/>
<text x="237.05" y="506" font-size="12.4" text-anchor="middle" fill="#000">10</text>
<line x1="281.7" x2="281.7" y1="496.25" y2="494.45" stroke="#c6c6c6" stroke-width="0.7"/>
<text x="281.7" y="506" font-size="12.4" text-anchor="middle" fill="#000">20</text>
<line x1="326.35" x2="326.35" y1="496.25" y2="494.45" stroke="#c6c6c6" stroke-width="0.7"/>
<text x="326.35" y="506" font-size="12.4" text-anchor="middle" fill="#000">30</text>
<g clip-path="url(#cpd)">
<path d="M192.4 411.08L194.63 411.26L196.87 411.43L199.1 411.57L201.33 411.68L203.56 411.77L205.8 411.84L208.03 411.9L210.26 411.96L212.49 412.03L214.72 412.11L216.96 412.18L219.19 412.25L221.42 412.32L223.66 412.39L225.89 412.46L228.12 412.53L230.35 412.6L232.59 412.67L234.82 412.74L237.05 412.81L239.28 412.88L241.51 412.95L243.75 413.02L245.98 413.09L248.21 413.16L250.44 413.23L252.68 413.3L254.91 413.37L257.14 413.44L259.38 413.51L261.61 413.59L263.84 413.66L266.07 413.73L268.31 413.8L270.54 413.87L272.77 413.94L275 414.01L277.24 414.08L279.47 414.15L281.7 414.22L283.93 414.29L286.17 414.36L288.4 414.43L290.63 414.5L292.86 414.57L295.1 414.64L297.33 414.71L299.56 414.78L301.79 414.85L304.02 414.93L306.26 415L308.49 415.07L310.72 415.14L312.95 415.21L315.19 415.28L317.42 415.35L319.65 415.42L321.88 415.49L324.12 415.56L326.35 415.63" fill="none" stroke="#00a800" stroke-width="1.4" stroke-linejoin="round"/>
<ellipse cx="192.4" cy="411.08" rx="2.65" ry="3.1" fill="none" stroke="#00a800" stroke-width="0.46"/>
<ellipse cx="201.33" cy="411.68" rx="2.65" ry="3.1" fill="none" stroke="#00a800" stroke-width="0.46"/>
<ellipse cx="210.26" cy="411.96" rx="2.65" ry="3.1" fill="none" stroke="#00a800" stroke-width="0.46"/>
<ellipse cx="219.19" cy="412.25" rx="2.65" ry="3.1" fill="none" stroke="#00a800" stroke-width="0.46"/>
<ellipse cx="228.12" cy="412.53" rx="2.65" ry="3.1" fill="none" stroke="#00a800" stroke-width="0.46"/>
<ellipse cx="237.05" cy="412.81" rx="2.65" ry="3.1" fill="none" stroke="#00a800" stroke-width="0.46"/>
<ellipse cx="245.98" cy="413.09" rx="2.65" ry="3.1" fill="none" stroke="#00a800" stroke-width="0.46"/>
<ellipse cx="254.91" cy="413.37" rx="2.65" ry="3.1" fill="none" stroke="#00a800" stroke-width="0.46"/>
<ellipse cx="263.84" cy="413.66" rx="2.65" ry="3.1" fill="none" stroke="#00a800" stroke-width="0.46"/>
<ellipse cx="272.77" cy="413.94" rx="2.65" ry="3.1" fill="none" stroke="#00a800" stroke-width="0.46"/>
<ellipse cx="281.7" cy="414.22" rx="2.65" ry="3.1" fill="none" stroke="#00a800" stroke-width="0.46"/>
<ellipse cx="290.63" cy="414.5" rx="2.65" ry="3.1" fill="none" stroke="#00a800" stroke-width="0.46"/>
<ellipse cx="299.56" cy="414.78" rx="2.65" ry="3.1" fill="none" stroke="#00a800" stroke-width="0.46"/>
<ellipse cx="308.49" cy="415.07" rx="2.65" ry="3.1" fill="none" stroke="#00a800" stroke-width="0.46"/>
<ellipse cx="317.42" cy="415.35" rx="2.65" ry="3.1" fill="none" stroke="#00a800" stroke-width="0.46"/>
<ellipse cx="326.35" cy="415.63" rx="2.65" ry="3.1" fill="none" stroke="#00a800" stroke-width="0.46"/>
<path d="M192.4 411.08L194.63 411.23L196.87 411.37L199.1 411.47L201.33 411.55L203.56 411.6L205.8 411.64L208.03 411.67L210.26 411.7L212.49 411.74L214.72 411.78L216.96 411.81L219.19 411.85L221.42 411.89L223.66 411.93L225.89 411.96L228.12 412L230.35 412.04L232.59 412.08L234.82 412.11L237.05 412.15L239.28 412.19L241.51 412.23L243.75 412.26L245.98 412.3L248.21 412.34L250.44 412.38L252.68 412.42L254.91 412.45L257.14 412.49L259.38 412.53L261.61 412.57L263.84 412.6L266.07 412.64L268.31 412.68L270.54 412.72L272.77 412.75L275 412.79L277.24 412.83L279.47 412.87L281.7 412.9L283.93 412.94L286.17 412.98L288.4 413.02L290.63 413.05L292.86 413.09L295.1 413.13L297.33 413.17L299.56 413.2L301.79 413.24L304.02 413.28L306.26 413.32L308.49 413.36L310.72 413.39L312.95 413.43L315.19 413.47L317.42 413.51L319.65 413.54L321.88 413.58L324.12 413.62L326.35 413.66" fill="none" stroke="#ff0000" stroke-width="1.4" stroke-linejoin="round"/>
<rect x="189.8" y="408.53" width="5.2" height="5.1" fill="none" stroke="#ff0000" stroke-width="0.46"/>
<rect x="198.73" y="409" width="5.2" height="5.1" fill="none" stroke="#ff0000" stroke-width="0.46"/>
<rect x="207.66" y="409.15" width="5.2" height="5.1" fill="none" stroke="#ff0000" stroke-width="0.46"/>
<rect x="216.59" y="409.3" width="5.2" height="5.1" fill="none" stroke="#ff0000" stroke-width="0.46"/>
<rect x="225.52" y="409.45" width="5.2" height="5.1" fill="none" stroke="#ff0000" stroke-width="0.46"/>
<rect x="234.45" y="409.6" width="5.2" height="5.1" fill="none" stroke="#ff0000" stroke-width="0.46"/>
<rect x="243.38" y="409.75" width="5.2" height="5.1" fill="none" stroke="#ff0000" stroke-width="0.46"/>
<rect x="252.31" y="409.9" width="5.2" height="5.1" fill="none" stroke="#ff0000" stroke-width="0.46"/>
<rect x="261.24" y="410.05" width="5.2" height="5.1" fill="none" stroke="#ff0000" stroke-width="0.46"/>
<rect x="270.17" y="410.2" width="5.2" height="5.1" fill="none" stroke="#ff0000" stroke-width="0.46"/>
<rect x="279.1" y="410.35" width="5.2" height="5.1" fill="none" stroke="#ff0000" stroke-width="0.46"/>
<rect x="288.03" y="410.5" width="5.2" height="5.1" fill="none" stroke="#ff0000" stroke-width="0.46"/>
<rect x="296.96" y="410.65" width="5.2" height="5.1" fill="none" stroke="#ff0000" stroke-width="0.46"/>
<rect x="305.89" y="410.81" width="5.2" height="5.1" fill="none" stroke="#ff0000" stroke-width="0.46"/>
<rect x="314.82" y="410.96" width="5.2" height="5.1" fill="none" stroke="#ff0000" stroke-width="0.46"/>
<rect x="323.75" y="411.11" width="5.2" height="5.1" fill="none" stroke="#ff0000" stroke-width="0.46"/>
<path d="M192.4 411.08L194.63 411.22L196.87 411.34L199.1 411.43L201.33 411.49L203.56 411.53L205.8 411.55L208.03 411.57L210.26 411.59L212.49 411.61L214.72 411.63L216.96 411.66L219.19 411.68L221.42 411.71L223.66 411.73L225.89 411.75L228.12 411.78L230.35 411.8L232.59 411.82L234.82 411.85L237.05 411.87L239.28 411.89L241.51 411.92L243.75 411.94L245.98 411.96L248.21 411.99L250.44 412.01L252.68 412.03L254.91 412.06L257.14 412.08L259.38 412.11L261.61 412.13L263.84 412.15L266.07 412.18L268.31 412.2L270.54 412.22L272.77 412.25L275 412.27L277.24 412.29L279.47 412.32L281.7 412.34L283.93 412.36L286.17 412.39L288.4 412.41L290.63 412.43L292.86 412.46L295.1 412.48L297.33 412.5L299.56 412.53L301.79 412.55L304.02 412.58L306.26 412.6L308.49 412.62L310.72 412.65L312.95 412.67L315.19 412.69L317.42 412.72L319.65 412.74L321.88 412.76L324.12 412.79L326.35 412.81" fill="none" stroke="#0000ff" stroke-width="1.4" stroke-linejoin="round"/>
<path d="M192.4 408.23L195.1 413.78L189.7 413.78Z" fill="none" stroke="#0000ff" stroke-width="0.46"/>
<path d="M201.33 408.64L204.03 414.19L198.63 414.19Z" fill="none" stroke="#0000ff" stroke-width="0.46"/>
<path d="M210.26 408.74L212.96 414.29L207.56 414.29Z" fill="none" stroke="#0000ff" stroke-width="0.46"/>
<path d="M219.19 408.83L221.89 414.38L216.49 414.38Z" fill="none" stroke="#0000ff" stroke-width="0.46"/>
<path d="M228.12 408.93L230.82 414.48L225.42 414.48Z" fill="none" stroke="#0000ff" stroke-width="0.46"/>
<path d="M237.05 409.02L239.75 414.57L234.35 414.57Z" fill="none" stroke="#0000ff" stroke-width="0.46"/>
<path d="M245.98 409.11L248.68 414.66L243.28 414.66Z" fill="none" stroke="#0000ff" stroke-width="0.46"/>
<path d="M254.91 409.21L257.61 414.76L252.21 414.76Z" fill="none" stroke="#0000ff" stroke-width="0.46"/>
<path d="M263.84 409.3L266.54 414.85L261.14 414.85Z" fill="none" stroke="#0000ff" stroke-width="0.46"/>
<path d="M272.77 409.4L275.47 414.95L270.07 414.95Z" fill="none" stroke="#0000ff" stroke-width="0.46"/>
<path d="M281.7 409.49L284.4 415.04L279 415.04Z" fill="none" stroke="#0000ff" stroke-width="0.46"/>
<path d="M290.63 409.58L293.33 415.13L287.93 415.13Z" fill="none" stroke="#0000ff" stroke-width="0.46"/>
<path d="M299.56 409.68L302.26 415.23L296.86 415.23Z" fill="none" stroke="#0000ff" stroke-width="0.46"/>
<path d="M308.49 409.77L311.19 415.32L305.79 415.32Z" fill="none" stroke="#0000ff" stroke-width="0.46"/>
<path d="M317.42 409.87L320.12 415.42L314.72 415.42Z" fill="none" stroke="#0000ff" stroke-width="0.46"/>
<path d="M326.35 409.96L329.05 415.51L323.65 415.51Z" fill="none" stroke="#0000ff" stroke-width="0.46"/>
<path d="M192.4 298.32L194.63 298.83L196.87 299.43L199.1 300.11L201.33 300.86L203.56 301.71L205.8 302.69L208.03 303.74L210.26 304.8L212.49 305.86L214.72 306.93L216.96 308.07L219.19 309.32L221.42 310.74L223.66 312.33L225.89 313.96L228.12 315.52L230.35 316.97L232.59 318.37L234.82 319.76L237.05 321.16L239.28 322.58L241.51 324.02L243.75 325.43L245.98 326.8L248.21 328.12L250.44 329.41L252.68 330.66L254.91 331.88L257.14 333.06L259.38 334.2L261.61 335.31L263.84 336.39L266.07 337.41L268.31 338.39L270.54 339.36L272.77 340.34L275 341.35L277.24 342.39L279.47 343.39L281.7 344.28L283.93 345.05L286.17 345.74L288.4 346.4L290.63 347.1L292.86 347.89L295.1 348.72L297.33 349.52L299.56 350.21L301.79 350.73L304.02 351.17L306.26 351.62L308.49 352.18L310.72 352.94L312.95 353.88L315.19 354.88L317.42 355.85L319.65 356.76L321.88 357.68L324.12 358.6L326.35 359.51" fill="none" stroke="#00a800" stroke-width="1.5" stroke-linejoin="round"/>
<circle cx="192.4" cy="298.32" r="3.0" fill="#00a800"/>
<circle cx="201.33" cy="300.86" r="3.0" fill="#00a800"/>
<circle cx="210.26" cy="304.8" r="3.0" fill="#00a800"/>
<circle cx="219.19" cy="309.32" r="3.0" fill="#00a800"/>
<circle cx="228.12" cy="315.52" r="3.0" fill="#00a800"/>
<circle cx="237.05" cy="321.16" r="3.0" fill="#00a800"/>
<circle cx="245.98" cy="326.8" r="3.0" fill="#00a800"/>
<circle cx="254.91" cy="331.88" r="3.0" fill="#00a800"/>
<circle cx="263.84" cy="336.39" r="3.0" fill="#00a800"/>
<circle cx="272.77" cy="340.34" r="3.0" fill="#00a800"/>
<circle cx="281.7" cy="344.28" r="3.0" fill="#00a800"/>
<circle cx="290.63" cy="347.1" r="3.0" fill="#00a800"/>
<circle cx="299.56" cy="350.21" r="3.0" fill="#00a800"/>
<circle cx="308.49" cy="352.18" r="3.0" fill="#00a800"/>
<circle cx="317.42" cy="355.85" r="3.0" fill="#00a800"/>
<circle cx="326.35" cy="359.51" r="3.0" fill="#00a800"/>
<path d="M192.4 298.32L194.63 298.71L196.87 299.18L199.1 299.71L201.33 300.29L203.56 300.98L205.8 301.8L208.03 302.63L210.26 303.39L212.49 304.05L214.72 304.65L216.96 305.26L219.19 305.93L221.42 306.71L223.66 307.56L225.89 308.45L228.12 309.32L230.35 310.19L232.59 311.09L234.82 311.95L237.05 312.7L239.28 313.31L241.51 313.83L243.75 314.35L245.98 314.96L248.21 315.71L250.44 316.58L252.68 317.48L254.91 318.34L257.14 319.13L259.38 319.91L261.61 320.67L263.84 321.44L266.07 322.22L268.31 323.01L270.54 323.79L272.77 324.54L275 325.27L277.24 325.97L279.47 326.67L281.7 327.36L283.93 328.07L286.17 328.77L288.4 329.48L290.63 330.18L292.86 330.92L295.1 331.68L297.33 332.4L299.56 333L301.79 333.47L304.02 333.85L306.26 334.23L308.49 334.7L310.72 335.32L312.95 336.06L315.19 336.82L317.42 337.52L319.65 338.13L321.88 338.71L324.12 339.26L326.35 339.77" fill="none" stroke="#ff0000" stroke-width="1.5" stroke-linejoin="round"/>
<rect x="189.78" y="295.7" width="5.24" height="5.24" fill="#ff0000"/>
<rect x="198.71" y="297.67" width="5.24" height="5.24" fill="#ff0000"/>
<rect x="207.64" y="300.77" width="5.24" height="5.24" fill="#ff0000"/>
<rect x="216.57" y="303.31" width="5.24" height="5.24" fill="#ff0000"/>
<rect x="225.5" y="306.7" width="5.24" height="5.24" fill="#ff0000"/>
<rect x="234.43" y="310.08" width="5.24" height="5.24" fill="#ff0000"/>
<rect x="243.36" y="312.34" width="5.24" height="5.24" fill="#ff0000"/>
<rect x="252.29" y="315.72" width="5.24" height="5.24" fill="#ff0000"/>
<rect x="261.22" y="318.82" width="5.24" height="5.24" fill="#ff0000"/>
<rect x="270.15" y="321.92" width="5.24" height="5.24" fill="#ff0000"/>
<rect x="279.08" y="324.74" width="5.24" height="5.24" fill="#ff0000"/>
<rect x="288.01" y="327.56" width="5.24" height="5.24" fill="#ff0000"/>
<rect x="296.94" y="330.38" width="5.24" height="5.24" fill="#ff0000"/>
<rect x="305.87" y="332.08" width="5.24" height="5.24" fill="#ff0000"/>
<rect x="314.8" y="334.9" width="5.24" height="5.24" fill="#ff0000"/>
<rect x="323.73" y="337.15" width="5.24" height="5.24" fill="#ff0000"/>
<path d="M192.4 298.32L194.63 298.65L196.87 298.99L199.1 299.35L201.33 299.73L203.56 300.15L205.8 300.6L208.03 301.04L210.26 301.42L212.49 301.72L214.72 301.97L216.96 302.22L219.19 302.55L221.42 303.02L223.66 303.62L225.89 304.25L228.12 304.8L230.35 305.28L232.59 305.72L234.82 306.13L237.05 306.5L239.28 306.8L241.51 307.06L243.75 307.32L245.98 307.62L248.21 308L250.44 308.43L252.68 308.88L254.91 309.32L257.14 309.74L259.38 310.16L261.61 310.59L263.84 311.01L266.07 311.43L268.31 311.85L270.54 312.28L272.77 312.7L275 313.12L277.24 313.55L279.47 313.97L281.7 314.39L283.93 314.81L286.17 315.24L288.4 315.66L290.63 316.08L292.86 316.51L295.1 316.93L297.33 317.35L299.56 317.78L301.79 318.21L304.02 318.66L306.26 319.09L308.49 319.47L310.72 319.8L312.95 320.11L315.19 320.38L317.42 320.6L319.65 320.78L321.88 320.94L324.12 321.07L326.35 321.16" fill="none" stroke="#0000ff" stroke-width="1.5" stroke-linejoin="round"/>
<path d="M192.4 295.72L195.15 300.82L189.65 300.82Z" fill="#0000ff"/>
<path d="M201.33 297.13L204.08 302.23L198.58 302.23Z" fill="#0000ff"/>
<path d="M210.26 298.82L213.01 303.92L207.51 303.92Z" fill="#0000ff"/>
<path d="M219.19 299.95L221.94 305.05L216.44 305.05Z" fill="#0000ff"/>
<path d="M228.12 302.2L230.87 307.3L225.37 307.3Z" fill="#0000ff"/>
<path d="M237.05 303.9L239.8 309L234.3 309Z" fill="#0000ff"/>
<path d="M245.98 305.02L248.73 310.12L243.23 310.12Z" fill="#0000ff"/>
<path d="M254.91 306.72L257.66 311.82L252.16 311.82Z" fill="#0000ff"/>
<path d="M263.84 308.41L266.59 313.51L261.09 313.51Z" fill="#0000ff"/>
<path d="M272.77 310.1L275.52 315.2L270.02 315.2Z" fill="#0000ff"/>
<path d="M281.7 311.79L284.45 316.89L278.95 316.89Z" fill="#0000ff"/>
<path d="M290.63 313.48L293.38 318.58L287.88 318.58Z" fill="#0000ff"/>
<path d="M299.56 315.18L302.31 320.28L296.81 320.28Z" fill="#0000ff"/>
<path d="M308.49 316.87L311.24 321.97L305.74 321.97Z" fill="#0000ff"/>
<path d="M317.42 318L320.17 323.1L314.67 323.1Z" fill="#0000ff"/>
<path d="M326.35 318.56L329.1 323.66L323.6 323.66Z" fill="#0000ff"/>
</g>
<text x="219.6" y="520.8" font-size="11.4" fill="#000" xml:space="preserve"><tspan font-style="italic">A</tspan><tspan font-size="8" dy="3" dx="0.3">0</tspan><tspan font-size="8" dy="-7.5" dx="-4">2</tspan><tspan x="232.8" dy="4.5" font-style="italic">τ</tspan><tspan x="244.7">(arbit. unit)</tspan></text>
<text transform="translate(176.5 411.5) rotate(-90)" font-size="11" fill="#000" xml:space="preserve"><tspan x="-1.1">|</tspan><tspan x="4.2">Δ</tspan><tspan x="12.4" font-size="8" dy="2.4" font-style="italic">l</tspan><tspan x="12" font-size="8" dy="-6.3">∞</tspan><tspan x="19" dy="3.9">|</tspan><tspan x="28.3">(meV)</tspan></text>
<text x="195.6" y="468" font-size="14.4" fill="#000">(d)</text>
<text x="94.8" y="42.5" font-size="9.3" fill="#000" xml:space="preserve"><tspan font-style="italic">ħω</tspan><tspan font-size="7" dy="1.8">0</tspan><tspan dy="-1.8"> = 8 meV</tspan></text>
<text x="262.8" y="42.5" font-size="9.3" fill="#000" xml:space="preserve"><tspan font-style="italic">ħω</tspan><tspan font-size="7" dy="1.8">0</tspan><tspan dy="-1.8"> = 8 meV</tspan></text>
<text x="102" y="121.7" font-size="9.3" fill="#000" xml:space="preserve"><tspan font-style="italic">V</tspan><tspan font-size="7" dy="1.8">12</tspan><tspan dy="-1.8"> = 0.2 <tspan font-style="italic">V</tspan><tspan font-size="7" dy="1.8">11</tspan></tspan></text>
<text x="281.4" y="121.5" font-size="9.3" fill="#000" xml:space="preserve"><tspan font-style="italic">V</tspan><tspan font-size="7" dy="1.8">12</tspan><tspan dy="-1.8"> = 0</tspan></text>
<text x="46" y="374.2" font-size="9.3" fill="#000" xml:space="preserve"><tspan font-style="italic">V</tspan><tspan font-size="7" dy="1.8">12</tspan><tspan dy="-1.8"> = 0.2 <tspan font-style="italic">V</tspan><tspan font-size="7" dy="1.8">11</tspan></tspan></text>
<text x="224.8" y="374.2" font-size="9.3" fill="#000" xml:space="preserve"><tspan font-style="italic">V</tspan><tspan font-size="7" dy="1.8">12</tspan><tspan dy="-1.8"> = 0</tspan></text>
<text x="71.5" y="475.4" font-size="9.3" fill="#000" xml:space="preserve"><tspan font-style="italic">ħω</tspan><tspan font-size="7" dy="1.8">0</tspan><tspan dy="-1.8"> = 14 meV</tspan></text>
<text x="239.5" y="475.4" font-size="9.3" fill="#000" xml:space="preserve"><tspan font-style="italic">ħω</tspan><tspan font-size="7" dy="1.8">0</tspan><tspan dy="-1.8"> = 14 meV</tspan></text>
<path d="M9.5 572.3V531.2H154.5V572.3" fill="none" stroke="#c8c8c8" stroke-width="0.8"/>
<path d="M176.6 572.3V531.2" fill="none" stroke="#c8c8c8" stroke-width="0.8"/>
<line x1="20.3" x2="31.9" y1="539.3" y2="539.3" stroke="#00a800" stroke-width="0.6" stroke-opacity="0.55"/>
<ellipse cx="26" cy="538.6" rx="2.65" ry="3.1" fill="none" stroke="#00a800" stroke-width="0.46"/>
<text x="56.7" y="541.3" font-size="9.5" fill="#222" style="word-spacing:0.25px" xml:space="preserve"><tspan font-style="italic">l</tspan> = <tspan font-style="italic">π</tspan>; <tspan font-style="italic">τ</tspan> = 0.4 ps</text>
<line x1="188.1" x2="199.9" y1="539.3" y2="539.3" stroke="#00a800" stroke-width="0.6" stroke-opacity="0.55"/>
<circle cx="193.9" cy="538.6" r="3.0" fill="#00a800"/>
<text x="224" y="541.3" font-size="9.5" fill="#222" style="word-spacing:0.25px" xml:space="preserve"><tspan font-style="italic">l</tspan> = <tspan font-style="italic">σ</tspan>; <tspan font-style="italic">τ</tspan> = 0.4 ps</text>
<line x1="20.3" x2="31.9" y1="551.9" y2="551.9" stroke="#ff0000" stroke-width="0.6" stroke-opacity="0.55"/>
<rect x="23.4" y="549.25" width="5.2" height="5.1" fill="none" stroke="#ff0000" stroke-width="0.46"/>
<text x="56.7" y="554.4" font-size="9.5" fill="#222" style="word-spacing:0.25px" xml:space="preserve"><tspan font-style="italic">l</tspan> = <tspan font-style="italic">π</tspan>; <tspan font-style="italic">τ</tspan> = 1.0 ps</text>
<line x1="188.1" x2="199.9" y1="551.9" y2="551.9" stroke="#ff0000" stroke-width="0.6" stroke-opacity="0.55"/>
<rect x="191.28" y="549.18" width="5.24" height="5.24" fill="#ff0000"/>
<text x="224" y="554.4" font-size="9.5" fill="#222" style="word-spacing:0.25px" xml:space="preserve"><tspan font-style="italic">l</tspan> = <tspan font-style="italic">σ</tspan>; <tspan font-style="italic">τ</tspan> = 1.0 ps</text>
<line x1="20.3" x2="31.9" y1="564.4" y2="564.4" stroke="#0000ff" stroke-width="0.6" stroke-opacity="0.55"/>
<path d="M26 561.95L28.7 567.5L23.3 567.5Z" fill="none" stroke="#0000ff" stroke-width="0.46"/>
<text x="56.7" y="567.4" font-size="9.5" fill="#222" style="word-spacing:0.25px" xml:space="preserve"><tspan font-style="italic">l</tspan> = <tspan font-style="italic">π</tspan>; <tspan font-style="italic">τ</tspan> = 5.0 ps</text>
<line x1="188.1" x2="199.9" y1="564.4" y2="564.4" stroke="#0000ff" stroke-width="0.6" stroke-opacity="0.55"/>
<path d="M193.9 562.2L196.65 567.3L191.15 567.3Z" fill="#0000ff"/>
<text x="224" y="567.4" font-size="9.5" fill="#222" style="word-spacing:0.25px" xml:space="preserve"><tspan font-style="italic">l</tspan> = <tspan font-style="italic">σ</tspan>; <tspan font-style="italic">τ</tspan> = 5.0 ps</text>
</svg>
</body></html>
